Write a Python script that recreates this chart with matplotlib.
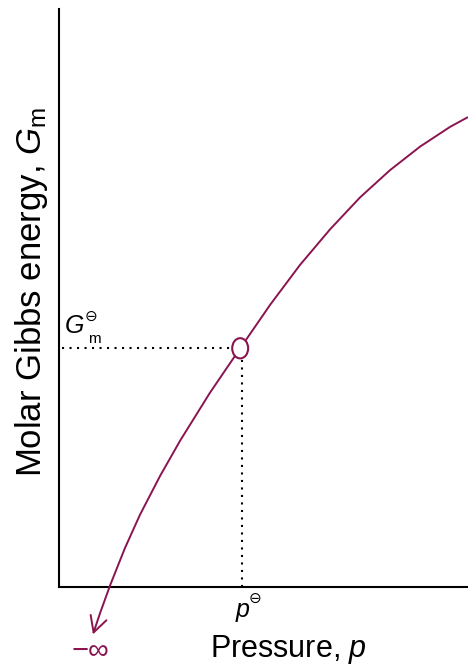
import matplotlib
matplotlib.use("Agg")
import matplotlib.pyplot as plt
from matplotlib.patches import Ellipse

plt.rcParams['font.family'] = ['Liberation Sans', 'DejaVu Sans']
plt.rcParams['mathtext.fontset'] = 'custom'
plt.rcParams['mathtext.rm'] = 'Liberation Sans'
plt.rcParams['mathtext.it'] = 'Liberation Sans:italic'

# Curve (arbitrary units, axes span 0..10)
pressure = [10.0, 9.56, 8.83, 8.09, 7.36, 6.63, 5.89, 5.16, 4.43, 3.69, 2.96,
            2.47, 1.98, 1.61, 1.25, 1.00, 0.83]
energy = [8.13, 7.96, 7.62, 7.21, 6.74, 6.19, 5.57, 4.88, 4.13, 3.36, 2.53,
          1.92, 1.25, 0.67, 0.03, -0.46, -0.82]

p_std = 4.43
G_std = 4.13

curve_color = '#8a1450'

fig = plt.figure(figsize=(4.68, 6.67), dpi=100)
ax = fig.add_axes([59 / 468, 80 / 667, 409 / 468, 578 / 667])
ax.set_xlim(0, 10)
ax.set_ylim(0, 10)
for s in ['top', 'right']:
    ax.spines[s].set_visible(False)
for s in ['left', 'bottom']:
    ax.spines[s].set_linewidth(1.5)
ax.set_xticks([])
ax.set_yticks([])

# curve (main part)
ax.plot(pressure[:-1], energy[:-1], color=curve_color, lw=1.4, clip_on=False,
        solid_capstyle='butt', solid_joinstyle='round', zorder=3)
# final segment with arrow head towards -infinity
ax.annotate('', xy=(pressure[-1], energy[-1]), xytext=(pressure[-2], energy[-2]),
            arrowprops=dict(arrowstyle='->,head_length=0.75,head_width=0.4',
                            color=curve_color, lw=1.4, shrinkA=0, shrinkB=0,
                            mutation_scale=15),
            annotation_clip=False, zorder=3)

# dotted guide lines
ax.plot([0.07, p_std - 0.22], [G_std, G_std], color='black', lw=1.5,
        linestyle=(0, (1, 2.6)), zorder=2)
ax.plot([p_std + 0.05, p_std + 0.05], [0, G_std - 0.19], color='black', lw=1.5,
        linestyle=(0, (1, 2.6)), zorder=2)

# open circle at the standard point
ax.add_patch(Ellipse((p_std, G_std), width=0.39, height=0.35, facecolor='white',
                     edgecolor=curve_color, lw=1.5, zorder=4))

sym_family = ['DejaVu Sans', 'Noto Sans']

# G_m^std label
ax.text(0.15, 4.39, 'G', fontsize=18, style='italic', ha='left', va='baseline')
ax.text(0.63, 4.6, '\u2296', fontsize=11, ha='left', va='baseline', family=sym_family)
ax.text(0.70, 4.23, 'm', fontsize=11, ha='left', va='baseline')

# p^std label below axis
ax.text(4.33, -0.52, 'p', fontsize=18, style='italic', ha='left', va='baseline',
        clip_on=False)
ax.text(4.64, -0.27, '\u2296', fontsize=11, ha='left', va='baseline',
        family=sym_family, clip_on=False)

# -infinity
fig.text(72 / 468, 1 - 659 / 667, '\u2212\u221e', fontsize=21, color=curve_color,
         ha='left', va='baseline')

# axis titles
fig.text(288 / 468, 1 - 657 / 667, 'Pressure, $p$', fontsize=22, ha='center',
         va='baseline')
fig.text(32 / 468, 1 - 292 / 667, 'Molar Gibbs energy, $G_{\\mathrm{m}}$', fontsize=25,
         rotation=90, ha='center', va='center')

fig.savefig('out.png', dpi=100)
